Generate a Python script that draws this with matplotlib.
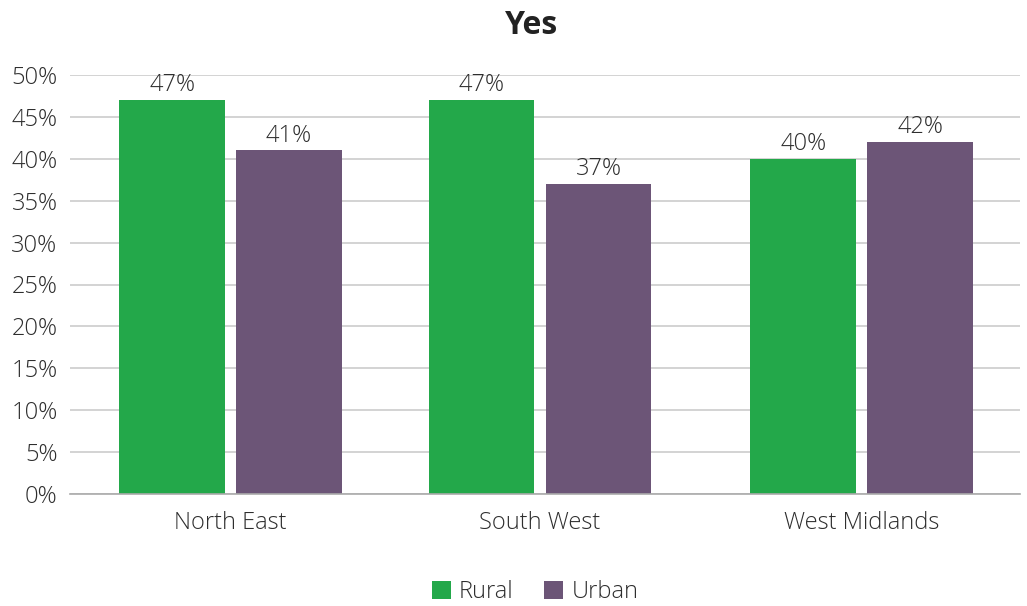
import matplotlib
matplotlib.use("Agg")
import matplotlib.pyplot as plt
from matplotlib.patches import Patch
import numpy as np

# Share of "Yes" answers by region and area type
regions = ["North East", "South West", "West Midlands"]
rural = [47, 47, 40]
urban = [41, 37, 42]
series_names = ["Rural", "Urban"]
y_ticks = [0, 5, 10, 15, 20, 25, 30, 35, 40, 45, 50]

GREEN = "#23a84a"
PURPLE = "#6c5577"
TEXT = "#2e2e2e"
FS = 17

plt.rcParams["font.family"] = ["Open Sans", "DejaVu Sans"]

fig = plt.figure(figsize=(10.27, 6.06), dpi=100)
ax = fig.add_axes([70 / 1027, 1 - 494 / 606, 950 / 1027, 419 / 606])

group_x = np.array([0.0, 1.0, 2.04])
bar_w = 0.342
gap = 0.036
offset = (bar_w + gap) / 2

bars_r = ax.bar(group_x - offset, rural, width=bar_w, color=GREEN, zorder=3)
bars_u = ax.bar(group_x + offset, urban, width=bar_w, color=PURPLE, zorder=3)

for bars, vals in ((bars_r, rural), (bars_u, urban)):
    for b, v in zip(bars, vals):
        ax.annotate(f"{v}%", (b.get_x() + b.get_width() / 2, v),
                    xytext=(0, 2), textcoords="offset points",
                    ha="center", va="bottom", fontsize=FS, color=TEXT,
                    fontweight="light", annotation_clip=False)

ax.set_xlim(-0.519, 2.551)
ax.set_ylim(0, 50)
ax.set_yticks(y_ticks)
ax.set_yticklabels([f"{t}%" for t in y_ticks], fontweight="light")
ax.set_xticks(group_x)
ax.set_xticklabels(regions, fontweight="light")

ax.grid(axis="y", color="#cccccc", linewidth=1.2, zorder=0)
ax.set_axisbelow(True)
for side in ("left", "right", "top"):
    ax.spines[side].set_visible(False)
ax.spines["bottom"].set_color("#aaaaaa")
ax.spines["bottom"].set_linewidth(1.2)
ax.spines["bottom"].set_zorder(4)

ax.tick_params(axis="y", length=0, pad=9, labelsize=FS, labelcolor=TEXT)
ax.tick_params(axis="x", length=0, pad=12, labelsize=FS, labelcolor=TEXT)

fig.text(532 / 1027, 1 - 25 / 606, "Yes", ha="center", va="center",
         fontsize=23, fontweight="bold", color="#222222")

handles = [Patch(facecolor=GREEN, edgecolor="none"),
           Patch(facecolor=PURPLE, edgecolor="none")]
fig.legend(handles, series_names, loc="center", bbox_to_anchor=(535 / 1027, 1 - 592 / 606),
           borderaxespad=0.0, borderpad=0.0,
           ncol=2, frameon=False, prop={"size": FS, "weight": "light"},
           handlelength=0.8, handleheight=0.8,
           handletextpad=0.35, columnspacing=1.3, labelcolor=TEXT)

fig.savefig("out.png", dpi=100)
